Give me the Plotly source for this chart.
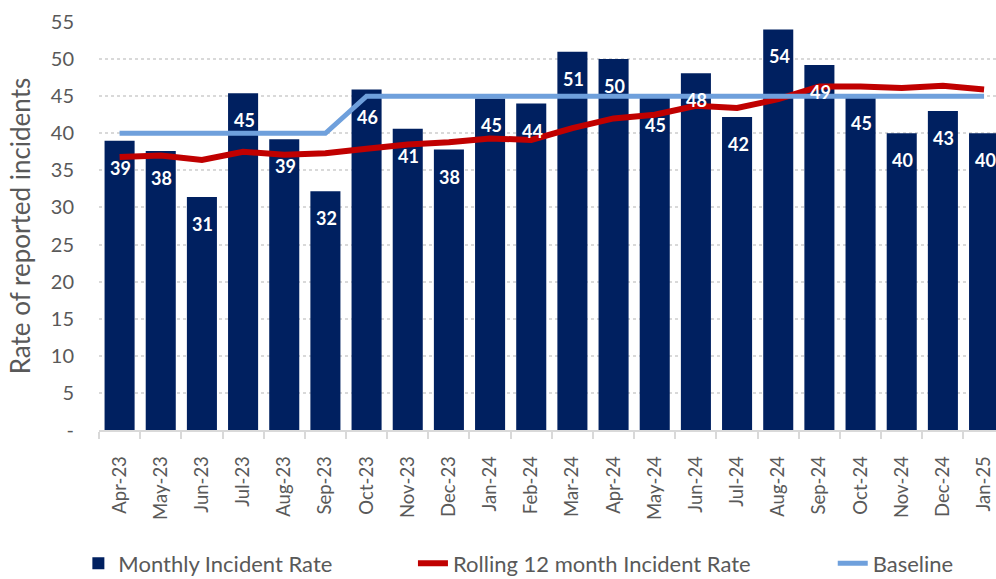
import plotly.graph_objects as go

months = ["Apr-23", "May-23", "Jun-23", "Jul-23", "Aug-23", "Sep-23", "Oct-23", "Nov-23",
          "Dec-23", "Jan-24", "Feb-24", "Mar-24", "Apr-24", "May-24", "Jun-24", "Jul-24",
          "Aug-24", "Sep-24", "Oct-24", "Nov-24", "Dec-24", "Jan-25"]
monthly_rate = [39.0, 37.6, 31.4, 45.4, 39.2, 32.2, 45.9, 40.6, 37.8, 44.7, 44.0, 51.0,
                50.0, 44.8, 48.1, 42.2, 54.0, 49.2, 45.0, 40.0, 43.0, 40.0]
rolling_rate = [36.8, 37.0, 36.4, 37.5, 37.1, 37.3, 37.9, 38.5, 38.8, 39.3, 39.1, 40.7,
                42.0, 42.5, 43.7, 43.4, 44.6, 46.3, 46.3, 46.1, 46.4, 45.9]
baseline = [40, 40, 40, 40, 40, 40, 45, 45, 45, 45, 45, 45,
            45, 45, 45, 45, 45, 45, 45, 45, 45, 45]
y_ticks = [0, 5, 10, 15, 20, 25, 30, 35, 40, 45, 50, 55]
y_tick_labels = ["-"] + [str(v) for v in y_ticks[1:]]

FONT = "Lato, 'Open Sans', sans-serif"
GREY = "#595959"

fig = go.Figure()
fig.add_trace(go.Bar(x=months, y=monthly_rate, name="Monthly Incident Rate",
                     marker=dict(color="#002060", line=dict(width=0)),
                     legend="legend", hoverinfo="skip"))
fig.add_trace(go.Scatter(x=months, y=rolling_rate, name="Rolling 12 month Incident Rate",
                         mode="lines", line=dict(color="#C00000", width=6),
                         legend="legend2", hoverinfo="skip"))
fig.add_trace(go.Scatter(x=months, y=baseline, name="Baseline",
                         mode="lines", line=dict(color="#6FA0DC", width=5),
                         legend="legend3", hoverinfo="skip"))

for m, v in zip(months, monthly_rate):
    fig.add_annotation(x=m, y=v, text=f"{round(v):d}", showarrow=False,
                       yanchor="middle", yshift=-27, xshift=1,
                       font=dict(family=FONT, size=18, color="white", weight="bold"))

legend_common = dict(orientation="h", yref="container", y=0.027, yanchor="middle",
                     xanchor="left", bgcolor="rgba(0,0,0,0)",
                     font=dict(family=FONT, size=22, color=GREY))

fig.update_layout(
    width=996, height=579,
    margin=dict(l=98.5, r=0, t=22, b=149),
    paper_bgcolor="white", plot_bgcolor="white",
    bargap=0.27,
    showlegend=True,
    legend=dict(x=-0.023, **legend_common),
    legend2=dict(x=0.350, **legend_common),
    legend3=dict(x=0.818, **legend_common),
    font=dict(family=FONT, color=GREY),
    xaxis=dict(range=[-0.5, 21.29], showgrid=False, showline=True, linecolor="#D9D9D9",
               linewidth=1.5, ticks="outside", tickson="boundaries", ticklen=7,
               tickcolor="#D9D9D9", tickwidth=1.5, tickangle=-90, ticklabelstandoff=17,
               tickfont=dict(family=FONT, size=18.5, color=GREY), automargin=False,
               fixedrange=True),
    yaxis=dict(range=[0, 55], tickvals=y_ticks, ticktext=y_tick_labels,
               showgrid=True, gridcolor="#D9D9D9", gridwidth=1.5, griddash="dot",
               zeroline=False, showline=False, ticks="", ticklabelstandoff=24,
               tickfont=dict(family=FONT, size=20, color=GREY), automargin=False,
               title=dict(text="Rate of reported incidents", standoff=12,
                          font=dict(family=FONT, size=26, color=GREY)),
               fixedrange=True),
)

fig.write_html("out.html", config={"displayModeBar": False},
               post_script="document.body.style.margin='0';")
